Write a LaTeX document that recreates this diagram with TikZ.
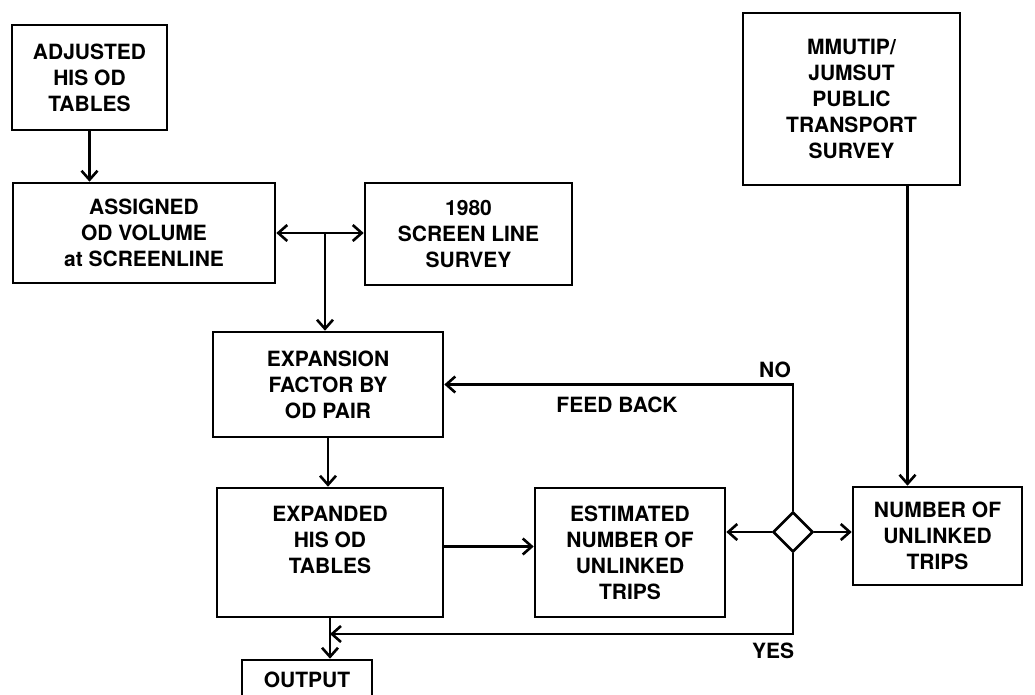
\documentclass[tikz,border=0pt]{standalone}
\usepackage{fontspec}
\setmainfont{TeX Gyre Heros}
\usetikzlibrary{arrows.meta,shapes.geometric}

\begin{document}
\begin{tikzpicture}[x=1pt,y=-1pt,>={Straight Barb[length=9pt,width=16pt]},line width=2.6pt]
  \tikzstyle{box}=[draw,align=center,inner sep=0pt,font=\fontsize{21}{26}\selectfont\bfseries]
  \tikzstyle{lbl}=[font=\fontsize{21}{26}\selectfont\bfseries]
  \useasboundingbox (0,0) rectangle (1035,694);

  \node[box,minimum width=155pt,minimum height=105pt] (adj) at (89.5,77.5) {ADJUSTED\\HIS OD\\TABLES};
  \node[box,minimum width=262pt,minimum height=100pt] (asg) at (144,233) {ASSIGNED\\OD VOLUME\\at SCREENLINE};
  \node[box,minimum width=207pt,minimum height=102pt] (scr) at (468.5,234) {1980\\SCREEN LINE\\SURVEY};
  \node[box,minimum width=217pt,minimum height=172pt] (mmu) at (851.5,99) {MMUTIP/\\JUMSUT\\PUBLIC\\TRANSPORT\\SURVEY};
  \node[box,minimum width=230pt,minimum height=105pt] (exf) at (328,384.5) {EXPANSION\\FACTOR BY\\OD PAIR};
  \node[box,minimum width=226pt,minimum height=129pt] (exd) at (330,552.5) {EXPANDED\\HIS OD\\TABLES\\~};
  \node[box,minimum width=190pt,minimum height=129pt] (est) at (630,552.5) {ESTIMATED\\NUMBER OF\\UNLINKED\\TRIPS};
  \node[box,minimum width=169pt,minimum height=98pt] (num) at (937.5,536) {NUMBER OF\\UNLINKED\\TRIPS};
  \node[box,minimum width=130pt,minimum height=40pt] (out) at (307,680) {OUTPUT};
  \node[draw,diamond,minimum width=40pt,minimum height=40pt,inner sep=0pt] (dia) at (793,532) {};

  \node[lbl] (no) at (775,370) {NO};
  \node[lbl] (fb) at (617,405) {FEED BACK};
  \node[lbl] (yes) at (773,651) {YES};

  \coordinate (jn) at (325,233);
  \coordinate (mt) at ([xshift=56pt]mmu.south);
  \coordinate (yj) at (330,634);

  \draw[->] (adj.south) -- (adj.south |- asg.north);
  \draw[<->] (asg.east) -- (asg.east -| scr.west);
  \draw[->] (jn) -- (jn |- exf.north);
  \draw[->] (exf.south) -- (exf.south |- exd.north);
  \draw[->] ([yshift=6pt]exd.east) -- ([yshift=6pt]est.west);
  \draw[->] (dia.west) -- (dia.west -| est.east);
  \draw[->] (dia.east) -- (dia.east -| num.west);
  \draw[->] (mt) -- (mt |- num.north);
  \draw[->] (dia.north) |- (exf.east);
  \draw[->] (dia.south) |- (yj);
  \draw[->] (exd.south) -- (exd.south |- out.north);
\end{tikzpicture}
\end{document}
